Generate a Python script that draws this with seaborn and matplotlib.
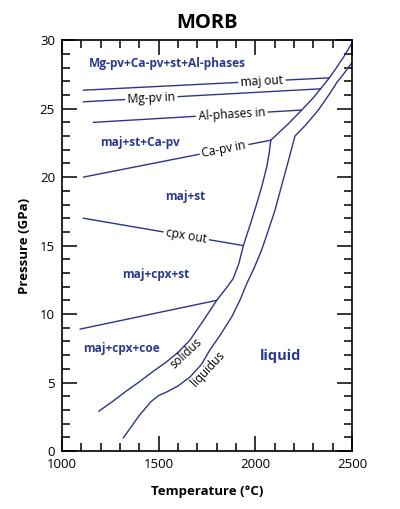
import numpy as np
import pandas as pd
import matplotlib
matplotlib.use("Agg")
import matplotlib.pyplot as plt
from matplotlib.ticker import MultipleLocator
import seaborn as sns

# solidus and liquidus (T in C, P in GPa)
solidus_T = [1190, 1260, 1330, 1400, 1470, 1540, 1600, 1662, 1730, 1800,
             1850, 1886, 1915, 1938, 1975, 2007, 2035, 2059, 2072, 2080,
             2171, 2240, 2300, 2340, 2380, 2420, 2460, 2502]
solidus_P = [2.9, 3.6, 4.35, 5.05, 5.8, 6.5, 7.2, 8.1, 9.5, 11.0,
             11.9, 12.6, 13.7, 15.0, 16.6, 18.05, 19.4, 20.75, 21.8, 22.7,
             23.9, 24.9, 25.8, 26.5, 27.2, 28.0, 28.85, 29.85]

liquidus_T = [1317, 1400, 1460, 1500, 1540, 1600, 1662, 1720, 1766,
              1820, 1878, 1920, 1955, 1995, 2033, 2067, 2102, 2145, 2175, 2205,
              2260, 2326, 2380, 2421, 2460, 2502]
liquidus_P = [0.95, 2.6, 3.6, 4.05, 4.3, 4.75, 5.4, 6.3, 7.4,
              8.5, 9.8, 11.0, 12.2, 13.4, 14.7, 16.1, 17.6, 19.85, 21.4, 23.0,
              23.8, 24.9, 26.0, 26.9, 27.6, 28.4]

# subsolidus phase boundaries: name, [T start, T end], [P start, P end]
boundary_names = ["maj out", "Mg-pv in", "Al-phases in", "Ca-pv in", "cpx out", ""]
boundary_T = [[1110, 2382], [1110, 2338], [1162, 2240], [1110, 2080], [1110, 1938], [1093, 1800]]
boundary_P = [[26.35, 27.25], [25.5, 26.45], [24.0, 24.9], [20.0, 22.7], [17.0, 15.0], [8.9, 11.0]]
boundary_label_T = [2034, 1462, 1878, 1838, 1643, None]
boundary_label_rot = [3, 2.8, 3.4, 11, -9.5, 0]

# phase field labels
field_names = ["Mg-pv+Ca-pv+st+Al-phases", "maj+st+Ca-pv", "maj+st", "maj+cpx+st", "maj+cpx+coe"]
field_T = [1543, 1403, 1639, 1483, 1309]
field_P = [28.3, 22.55, 18.55, 12.9, 7.5]

navy = "#2e3589"
blue = "#2b3990"

sns.set_style("ticks")
plt.rcParams["font.family"] = ["Open Sans", "DejaVu Sans"]
plt.rcParams["text.color"] = "black"
plt.rcParams["axes.labelcolor"] = "black"
plt.rcParams["xtick.color"] = "black"
plt.rcParams["ytick.color"] = "black"

fig = plt.figure(figsize=(4.0, 5.09), dpi=100)
ax = fig.add_axes([0.155, 0.114, 0.725, 0.807])

sol = pd.DataFrame({"T": solidus_T, "P": solidus_P})
liq = pd.DataFrame({"T": liquidus_T, "P": liquidus_P})
sns.lineplot(data=sol, x="T", y="P", sort=False, color=navy, lw=1.0, ax=ax)
sns.lineplot(data=liq, x="T", y="P", sort=False, color=navy, lw=1.0, ax=ax)

for name, bt, bp, lt, rot in zip(boundary_names, boundary_T, boundary_P,
                                  boundary_label_T, boundary_label_rot):
    ax.plot(bt, bp, color=navy, lw=1.0)
    if lt is not None:
        lp = np.interp(lt, bt, bp) if bt[0] < bt[1] else np.interp(lt, bt[::-1], bp[::-1])
        ax.text(lt, lp, name, fontsize=8.6, color="black", ha="center", va="center",
                rotation=rot, rotation_mode="anchor",
                bbox=dict(facecolor="white", edgecolor="none", pad=1.8))

for name, t, p in zip(field_names, field_T, field_P):
    ax.text(t, p, name, fontsize=8.6, fontweight="bold", color=blue,
            ha="center", va="center")
ax.text(2133, 6.93, "liquid", fontsize=10.5, fontweight="bold", color=blue,
        ha="center", va="center")

ax.text(1640, 7.1, "solidus", fontsize=8.4, ha="center", va="center",
        rotation=43, rotation_mode="anchor")
ax.text(1752, 6.0, "liquidus", fontsize=8.4, ha="center", va="center",
        rotation=47, rotation_mode="anchor")

ax.set_xlim(1000, 2500)
ax.set_ylim(0, 30)
ax.xaxis.set_major_locator(MultipleLocator(500))
ax.xaxis.set_minor_locator(MultipleLocator(100))
ax.yaxis.set_major_locator(MultipleLocator(5))
ax.yaxis.set_minor_locator(MultipleLocator(1))
ax.tick_params(which="both", direction="in", top=True, right=True,
               width=1.1, labelsize=9.5)
ax.tick_params(axis="x", which="major", length=11, pad=5)
ax.tick_params(axis="y", which="major", length=11, pad=5)
ax.tick_params(which="minor", length=6)
for s in ax.spines.values():
    s.set_linewidth(1.2)
    s.set_color("black")

ax.set_xlabel("Temperature (°C)", fontsize=9.5, fontweight="bold", labelpad=10)
ax.set_ylabel("Pressure (GPa)", fontsize=9.5, fontweight="bold", labelpad=6)
ax.set_title("MORB", fontsize=14.5, fontweight="bold", pad=9)

fig.savefig("out.png", dpi=100)
